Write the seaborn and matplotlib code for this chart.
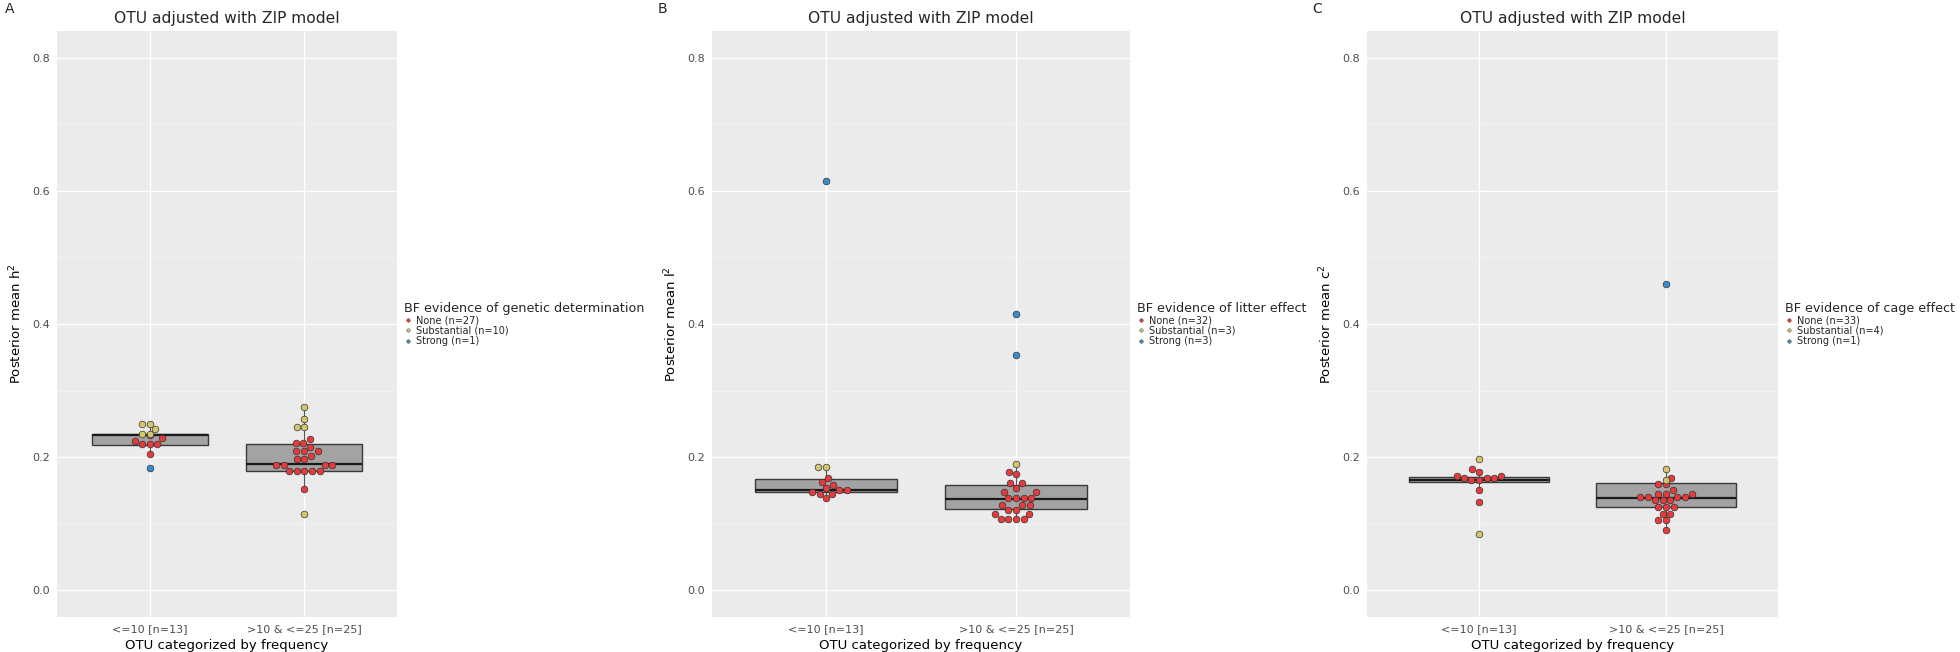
import numpy as np
import pandas as pd
import matplotlib
matplotlib.use("Agg")
import matplotlib.pyplot as plt
from matplotlib.lines import Line2D
from matplotlib.ticker import MultipleLocator
import seaborn as sns

# categories and classes
cats = ["<=10 [n=13]", ">10 & <=25 [n=25]"]
classes = ["None", "Substantial", "Strong"]
colors = {"None": "#E8393C", "Substantial": "#D5C66C", "Strong": "#3A8CCB"}

# panel A: h2 (genetic determination)
A_c1_none = [0.2247, 0.2196, 0.2196, 0.2196, 0.2046, 0.2340, 0.2290]
A_c1_subst = [0.2496, 0.2496, 0.2422, 0.2347, 0.2347]
A_c1_strong = [0.184]
A_c2_none = [0.2276, 0.2210, 0.2210, 0.2150, 0.2086, 0.2086, 0.2086, 0.2020,
             0.1976, 0.1976, 0.1876, 0.1876, 0.1876, 0.1876, 0.1790, 0.1790,
             0.1790, 0.1790, 0.1790, 0.1526]
A_c2_subst = [0.275, 0.258, 0.246, 0.246, 0.115]
A_c2_strong = []
A_q1, A_med, A_q3 = [0.219, 0.179], [0.233, 0.1896], [0.235, 0.220]
A_lo, A_hi = [0.2046, 0.1526], [0.2496, 0.275]

# panel B: l2 (litter effect)
B_c1_none = [0.168, 0.163, 0.158, 0.154, 0.150, 0.150, 0.148, 0.145, 0.145, 0.139]
B_c1_subst = [0.186, 0.186]
B_c1_strong = [0.615]
B_c2_none = [0.1776, 0.174, 0.161, 0.161, 0.154, 0.1476, 0.1476, 0.1386, 0.1386,
             0.1386, 0.1386, 0.1276, 0.1276, 0.1276, 0.121, 0.121, 0.115, 0.115,
             0.107, 0.107, 0.107, 0.107]
B_c2_subst = [0.190]
B_c2_strong = [0.415, 0.353]
B_q1, B_med, B_q3 = [0.148, 0.122], [0.151, 0.1376], [0.1666, 0.1586]
B_lo, B_hi = [0.139, 0.107], [0.186, 0.190]

# panel C: c2 (cage effect)
C_c1_none = [0.183, 0.178, 0.172, 0.172, 0.168, 0.168, 0.168, 0.165, 0.165, 0.150, 0.133]
C_c1_subst = [0.197, 0.085]
C_c1_strong = []
C_c2_none = [0.168, 0.160, 0.160, 0.150, 0.145, 0.145, 0.145, 0.140, 0.140, 0.140,
             0.140, 0.135, 0.135, 0.135, 0.125, 0.125, 0.125, 0.115, 0.115, 0.105,
             0.105, 0.090]
C_c2_subst = [0.182, 0.166]
C_c2_strong = [0.460]
C_q1, C_med, C_q3 = [0.162, 0.125], [0.166, 0.138], [0.170, 0.161]
C_lo, C_hi = [0.150, 0.090], [0.178, 0.182]

panels = [
    dict(letter="A", ylab="Posterior mean h$^2$",
         legtitle="BF evidence of genetic determination",
         counts=[27, 10, 1],
         pts=[[A_c1_none, A_c1_subst, A_c1_strong], [A_c2_none, A_c2_subst, A_c2_strong]],
         box=(A_q1, A_med, A_q3, A_lo, A_hi), pos=(57, 397), lx=0),
    dict(letter="B", ylab="Posterior mean l$^2$",
         legtitle="BF evidence of litter effect",
         counts=[32, 3, 3],
         pts=[[B_c1_none, B_c1_subst, B_c1_strong], [B_c2_none, B_c2_subst, B_c2_strong]],
         box=(B_q1, B_med, B_q3, B_lo, B_hi), pos=(712, 1130), lx=653),
    dict(letter="C", ylab="Posterior mean c$^2$",
         legtitle="BF evidence of cage effect",
         counts=[33, 4, 1],
         pts=[[C_c1_none, C_c1_subst, C_c1_strong], [C_c2_none, C_c2_subst, C_c2_strong]],
         box=(C_q1, C_med, C_q3, C_lo, C_hi), pos=(1367, 1778), lx=1307),
]

sns.set_theme(style="darkgrid")
plt.rcParams["font.family"] = ["DejaVu Sans"]

W, H = 1960, 652
fig = plt.figure(figsize=(W / 100, H / 100), dpi=100)

for p in panels:
    x0, x1 = p["pos"]
    ax = fig.add_axes([x0 / W, (H - 617) / H, (x1 - x0) / W, (617 - 31) / H])
    ax.set_facecolor("#EBEBEB")

    q1, med, q3, lo, hi = p["box"]
    stats = [dict(q1=q1[i], med=med[i], q3=q3[i], whislo=lo[i], whishi=hi[i], fliers=[])
             for i in range(2)]
    ax.bxp(stats, positions=[0, 1], widths=0.75, patch_artist=True, showcaps=False,
           boxprops=dict(facecolor="#A3A3A3", edgecolor="#3A3A3A", linewidth=1.0),
           medianprops=dict(color="#1A1A1A", linewidth=1.6),
           whiskerprops=dict(color="#555555", linewidth=0.8), zorder=2)

    # one swarm layer per evidence class, like stacked ggplot layers
    for k, cls in enumerate(classes):
        rows = [(cat, v) for ci, cat in enumerate(cats) for v in p["pts"][ci][k]]
        df = pd.DataFrame(rows, columns=["cat", "val"])
        if df.empty:
            continue
        df["cat"] = pd.Categorical(df["cat"], categories=cats)
        sns.swarmplot(data=df, x="cat", y="val", order=cats, color=colors[cls],
                      size=4.8, linewidth=0.5, edgecolor="#333333", ax=ax, zorder=3 + k)

    ax.set_xlim(-0.6, 1.6)
    ax.set_ylim(-0.04, 0.84)
    ax.set_xticks([0, 1])
    ax.set_xticklabels(cats)
    ax.yaxis.set_major_locator(MultipleLocator(0.2))
    ax.yaxis.set_minor_locator(MultipleLocator(0.1))
    ax.set_yticklabels([f"{t:.1f}" for t in ax.get_yticks()])
    ax.grid(which="major", color="white", linewidth=1.0)
    ax.grid(which="minor", axis="y", color="#F3F3F3", linewidth=0.6)
    ax.set_axisbelow(True)
    for s in ax.spines.values():
        s.set_visible(False)
    ax.tick_params(axis="both", which="major", length=3, width=0.8, color="#333333",
                   labelsize=8, labelcolor="#4D4D4D", pad=2)
    ax.tick_params(axis="both", which="minor", length=0)
    ax.set_xlabel("OTU categorized by frequency", fontsize=9.5, color="black", labelpad=4)
    ax.set_ylabel(p["ylab"], fontsize=9.5, color="black", labelpad=6)
    ax.set_title("OTU adjusted with ZIP model", fontsize=11.2, pad=6)

    handles = [Line2D([], [], linestyle="none", marker="o", markersize=2.5,
                      markerfacecolor=colors[c], markeredgecolor="#333333",
                      markeredgewidth=0.3) for c in classes]
    labels = [f"{c} (n={n})" for c, n in zip(classes, p["counts"])]
    ax.legend(handles, labels, title=p["legtitle"], loc="center left",
              bbox_to_anchor=(1.0, 0.5), frameon=False, fontsize=7,
              title_fontsize=9.2, handlelength=0.8, handletextpad=0.5,
              labelspacing=0.05, borderaxespad=0.3, alignment="left")

    fig.text((p["lx"] + 5) / W, 1 - 2 / H, p["letter"], fontsize=10, va="top", ha="left")

fig.savefig("out.png", dpi=100)
